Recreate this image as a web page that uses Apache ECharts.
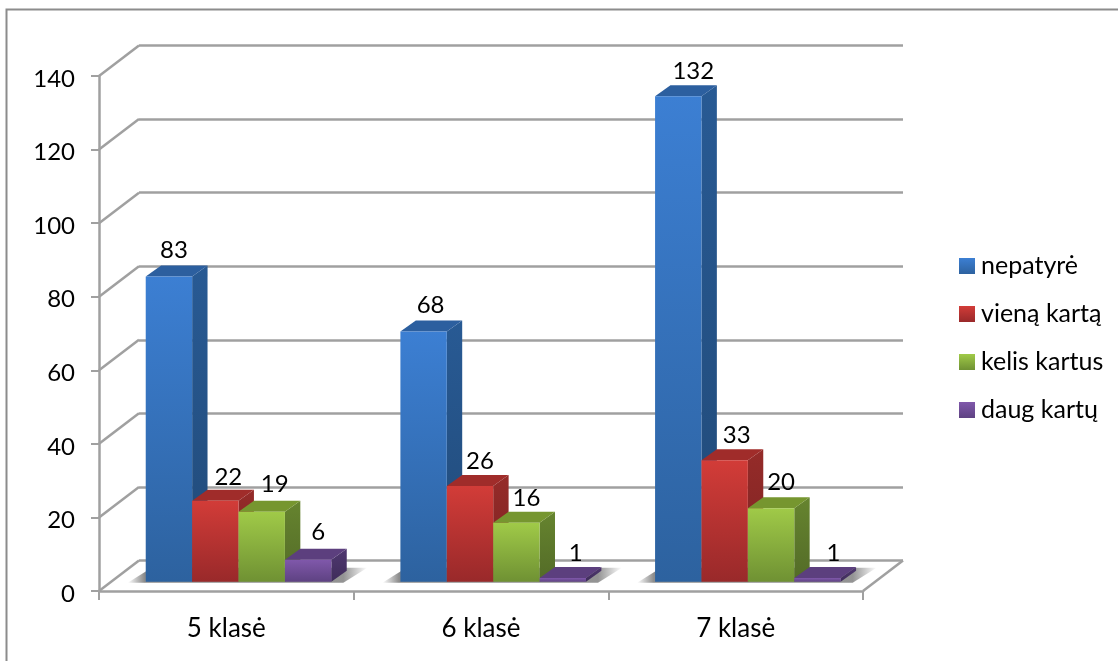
<!DOCTYPE html>
<html><head><meta charset="utf-8">
<style>html,body{margin:0;padding:0;background:#fff}#c{width:1118px;height:661px}</style>
<script src="https://cdn.jsdelivr.net/npm/echarts@6/dist/echarts.min.js"></script>
</head><body><div id="c"></div>
<script>
const categories = ['5 klasė', '6 klasė', '7 klasė'];
const seriesNames = ['nepatyrė', 'vieną kartą', 'kelis kartus', 'daug kartų'];
const nepatyre = [83, 68, 132];
const vienaKarta = [22, 26, 33];
const kelisKartus = [19, 16, 20];
const daugKartu = [6, 1, 1];
const yTicks = [0, 20, 40, 60, 80, 100, 120, 140];

const FONT = 'Lato';
const LINE = '#a0a0a0';
const WALL_DX = 40, WALL_DY = -30.5;
const BAR_W = 46.4, GROUP_L = -80.6, BASE_LIFT = -9.3, DEPTH_DX = 15.4, DEPTH_DY = -11;
const palette = [
  {front: ['#3c7fd3', '#2d629f'], side: ['#285a94', '#214a78'], top: '#2c5f9f'},
  {front: ['#d23c38', '#99292a'], side: ['#952b29', '#7c2322'], top: '#a02c2a'},
  {front: ['#a0ca48', '#6f9133'], side: ['#66842f', '#536b27'], top: '#76962f'},
  {front: ['#8058ab', '#5e4282'], side: ['#4f3870', '#3f2c5a'], top: '#5c3f7e'}
];
const labelNudge = [
  [[5, -26], [7, -26], [15, -25]],
  [[13, -24], [10, -25], [12, -25]],
  [[13, -28], [10, -25], [10, -26]],
  [[10, -27], [13, -25], [16, -25]]
];
const grad = (a, b) => ({type: 'linear', x: 0, y: 0, x2: 0, y2: 1, colorStops: [{offset: 0, color: a}, {offset: 1, color: b}]});

function barRender(si) {
  return function (params, api) {
    const c = api.value(0), v = api.value(1);
    const cx = api.coord([c, 0])[0];
    const y0 = api.coord([c, 0])[1] + BASE_LIFT;
    const y1 = api.coord([c, v])[1] + BASE_LIFT;
    const x0 = cx + GROUP_L + si * BAR_W, x1 = x0 + BAR_W;
    const p = palette[si];
    const n = labelNudge[si][c];
    return {type: 'group', children: [
      {type: 'polygon', shape: {points: [[x1, y1], [x1 + DEPTH_DX, y1 + DEPTH_DY], [x1 + DEPTH_DX, y0 + DEPTH_DY], [x1, y0]]}, style: {fill: grad(p.side[0], p.side[1])}},
      {type: 'polygon', shape: {points: [[x0, y1], [x0 + DEPTH_DX, y1 + DEPTH_DY], [x1 + DEPTH_DX, y1 + DEPTH_DY], [x1, y1]]}, style: {fill: p.top}},
      {type: 'rect', shape: {x: x0, y: y1, width: BAR_W, height: y0 - y1}, style: {fill: grad(p.front[0], p.front[1])}},
      {type: 'text', z2: 50, style: {text: String(v), x: (x0 + x1) / 2 + n[0], y: y1 + n[1], align: 'center', verticalAlign: 'middle', font: '24px ' + FONT, fill: '#000'}}
    ]};
  };
}
const barData = [nepatyre, vienaKarta, kelisKartus, daugKartu];
const barSeries = seriesNames.map((name, si) => ({
  name, type: 'custom', coordinateSystem: 'cartesian2d', xAxisIndex: 0, yAxisIndex: 0, clip: false, z: 5 + si,
  itemStyle: {color: grad(palette[si].front[0], palette[si].front[1])},
  data: barData[si].map((v, c) => [c, v]), renderItem: barRender(si), silent: true
}));

const diagSeries = {
  type: 'custom', coordinateSystem: 'cartesian2d', xAxisIndex: 0, yAxisIndex: 0, clip: false, z: 2, silent: true,
  data: yTicks.map(t => [0, t]),
  renderItem(params, api) {
    const left = params.coordSys.x, y = api.coord([0, api.value(1)])[1];
    const seg = x => ({type: 'line', shape: {x1: x, y1: y, x2: x + WALL_DX, y2: y + WALL_DY}, style: {stroke: LINE, lineWidth: 2.5}});
    const kids = [seg(left)];
    if (api.value(1) === 0) kids.push(seg(left + params.coordSys.width));
    return {type: 'group', children: kids};
  }
};
const shadowSeries = {
  type: 'custom', coordinateSystem: 'cartesian2d', xAxisIndex: 0, yAxisIndex: 0, clip: false, z: 3, silent: true,
  data: categories.map((_, c) => [c, 0]),
  renderItem(params, api) {
    const pt = api.coord([api.value(0), 0]);
    const xa = pt[0] + GROUP_L - 18, xb = pt[0] + GROUP_L + 4 * BAR_W + 12, y = pt[1] + BASE_LIFT + 1;
    return {type: 'polygon', shape: {points: [[xa, y], [xa + 24, y - 15], [xb + 24, y - 15], [xb, y]]},
      style: {fill: {type: 'linear', x: 0, y: 0, x2: 1, y2: 0, colorStops: [
        {offset: 0, color: 'rgba(90,90,90,0)'}, {offset: 0.07, color: 'rgba(90,90,90,0.7)'},
        {offset: 0.9, color: 'rgba(90,90,90,0.65)'}, {offset: 1, color: 'rgba(90,90,90,0)'}]}}};
  }
};

const chart = echarts.init(document.getElementById('c'));
chart.setOption({
  animation: false,
  backgroundColor: '#fff',
  textStyle: {fontFamily: FONT},
  graphic: [
    {type: 'polyline', z: 0, silent: true, shape: {points: [[6.5, 665], [6.5, 9.5], [1122, 9.5]]}, style: {stroke: '#8c8c8c', lineWidth: 2, fill: 'none'}}
  ],
  legend: {
    orient: 'vertical', left: 959, top: 252, padding: 0, itemWidth: 16, itemHeight: 16, itemGap: 20, icon: 'rect',
    data: seriesNames, selectedMode: false,
    textStyle: {fontFamily: FONT, fontSize: 25, color: '#000', lineHeight: 28, padding: [0, 0, 0, 1]}
  },
  grid: [
    {left: 99, width: 764, top: 76, height: 515},
    {left: 139, width: 764, top: 45.5, height: 515}
  ],
  xAxis: [
    {gridIndex: 0, type: 'category', data: categories, z: 4,
     axisLine: {lineStyle: {color: LINE, width: 2.5}}, axisTick: {show: true, alignWithLabel: false, length: 9, lineStyle: {color: LINE, width: 2}},
     axisLabel: {fontFamily: FONT, fontSize: 26, color: '#000', margin: 25}},
    {gridIndex: 1, type: 'category', data: categories, show: false}
  ],
  yAxis: [
    {gridIndex: 0, type: 'value', min: 0, max: 140, interval: 20, z: 4,
     axisLine: {show: true, lineStyle: {color: LINE, width: 2.5}}, axisTick: {show: true, length: 8, lineStyle: {color: LINE, width: 2}},
     splitLine: {show: false},
     axisLabel: {fontFamily: FONT, fontSize: 24, color: '#000', margin: 24, verticalAlign: 'top', lineHeight: 6}},
    {gridIndex: 1, type: 'value', min: 0, max: 140, interval: 20,
     axisLine: {show: false}, axisTick: {show: false}, axisLabel: {show: false},
     splitLine: {show: true, lineStyle: {color: LINE, width: 2.5}}}
  ],
  series: [diagSeries, shadowSeries].concat(barSeries)
});
</script></body></html>
